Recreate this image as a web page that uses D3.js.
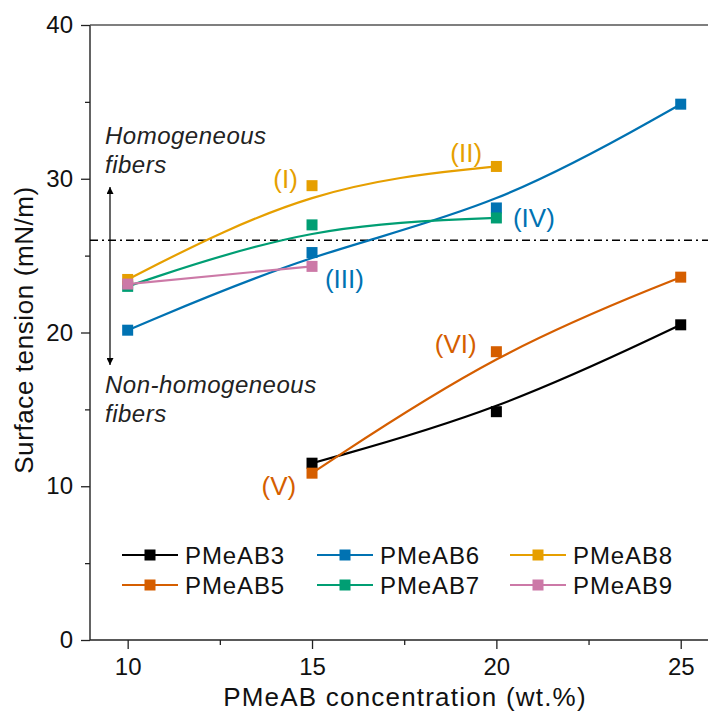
<!DOCTYPE html>
<html>
<head>
<meta charset="utf-8">
<script src="https://cdn.jsdelivr.net/npm/d3@7"></script>
<style>
  html, body { margin: 0; padding: 0; background: #fff; }
  svg { display: block; font-family: "Liberation Sans", Arial, sans-serif; }
</style>
</head>
<body>
<svg id="chart" width="708" height="713"></svg>
<script>
// Surface tension of PMeAB solutions vs. polymer concentration
const seriesNames = ["PMeAB3", "PMeAB5", "PMeAB6", "PMeAB7", "PMeAB8", "PMeAB9"];
const seriesColors = ["#000000", "#D55E00", "#0072B2", "#009E73", "#E69F00", "#CC79A7"];

const concPMeAB3 = [15, 20, 25];
const tensionPMeAB3 = [11.5, 14.85, 20.5];
const concPMeAB5 = [15, 20, 25];
const tensionPMeAB5 = [10.85, 18.75, 23.6];
const concPMeAB6 = [10, 15, 20, 25];
const tensionPMeAB6 = [20.15, 25.2, 28.1, 34.85];
const concPMeAB7 = [10, 15, 20];
const tensionPMeAB7 = [23.0, 27.0, 27.45];
const concPMeAB8 = [10, 15, 20];
const tensionPMeAB8 = [23.45, 29.55, 30.8];
const concPMeAB9 = [10, 15];
const tensionPMeAB9 = [23.15, 24.3];

const xMajorTicks = [10, 15, 20, 25];
const xMinorTicks = [12.5, 17.5, 22.5];
const yMajorTicks = [0, 10, 20, 30, 40];
const yMinorTicks = [5, 15, 25, 35];

const thresholdTension = 26;

// Roman-numeral labels placed beside the curves
const roman = ["(I)", "(II)", "(III)", "(IV)", "(V)", "(VI)"];
const romanSeries = ["PMeAB8", "PMeAB8", "PMeAB6", "PMeAB6", "PMeAB5", "PMeAB5"];
const romanConc = [13.95, 18.75, 15.35, 20.45, 13.63, 18.33];
const romanTension = [29.4, 31.1, 22.9, 26.85, 9.4, 18.65];

const series = [
  { name: "PMeAB3", x: concPMeAB3, y: tensionPMeAB3 },
  { name: "PMeAB5", x: concPMeAB5, y: tensionPMeAB5 },
  { name: "PMeAB6", x: concPMeAB6, y: tensionPMeAB6 },
  { name: "PMeAB7", x: concPMeAB7, y: tensionPMeAB7 },
  { name: "PMeAB8", x: concPMeAB8, y: tensionPMeAB8 },
  { name: "PMeAB9", x: concPMeAB9, y: tensionPMeAB9 }
].map(s => ({ ...s, points: s.x.map((v, i) => [v, s.y[i]]) }));

const color = d3.scaleOrdinal().domain(seriesNames).range(seriesColors);

const svg = d3.select("#chart");
const plotLeft = 90, plotTop = 25, plotBottom = 640, plotRight = 708;
const x = d3.scaleLinear().domain([9, 26]).range([plotLeft + 0.8, plotLeft + 0.8 + 17 * 36.87]);
const y = d3.scaleLinear().domain([0, 40]).range([plotBottom, plotTop]);

const axisColor = "#222";

// frame: left, bottom and top lines
svg.append("line").attr("x1", plotLeft).attr("x2", plotLeft).attr("y1", plotTop).attr("y2", plotBottom)
  .attr("stroke", axisColor).attr("stroke-width", 1.4);
svg.append("line").attr("x1", plotLeft).attr("x2", plotRight).attr("y1", plotBottom).attr("y2", plotBottom)
  .attr("stroke", axisColor).attr("stroke-width", 1.4);
svg.append("line").attr("x1", plotLeft).attr("x2", plotRight).attr("y1", plotTop).attr("y2", plotTop)
  .attr("stroke", "#555").attr("stroke-width", 1.4);

// y axis ticks and labels
const yAxis = d3.axisLeft(y).tickValues(yMajorTicks).tickSize(9).tickPadding(8).tickFormat(d3.format("d"));
const gy = svg.append("g").attr("transform", `translate(${plotLeft},0)`).call(yAxis);
gy.select(".domain").remove();
gy.selectAll(".tick line").attr("stroke", axisColor).attr("stroke-width", 1.3);
gy.selectAll(".tick text").attr("font-size", 24).attr("fill", "#111")
  .attr("font-family", "Liberation Sans, Arial, sans-serif");
const yMinor = d3.axisLeft(y).tickValues(yMinorTicks).tickSize(5).tickFormat("");
const gym = svg.append("g").attr("transform", `translate(${plotLeft},0)`).call(yMinor);
gym.select(".domain").remove();
gym.selectAll(".tick line").attr("stroke", axisColor).attr("stroke-width", 1.3);

// x axis ticks and labels
const xAxis = d3.axisBottom(x).tickValues(xMajorTicks).tickSize(9).tickPadding(9).tickFormat(d3.format("d"));
const gx = svg.append("g").attr("transform", `translate(0,${plotBottom})`).call(xAxis);
gx.select(".domain").remove();
gx.selectAll(".tick line").attr("stroke", axisColor).attr("stroke-width", 1.3);
gx.selectAll(".tick text").attr("font-size", 24).attr("fill", "#111")
  .attr("font-family", "Liberation Sans, Arial, sans-serif");
const xMinor = d3.axisBottom(x).tickValues(xMinorTicks).tickSize(5).tickFormat("");
const gxm = svg.append("g").attr("transform", `translate(0,${plotBottom})`).call(xMinor);
gxm.select(".domain").remove();
gxm.selectAll(".tick line").attr("stroke", axisColor).attr("stroke-width", 1.3);

// axis titles
svg.append("text").attr("x", 405).attr("y", 706).attr("text-anchor", "middle")
  .attr("font-size", 26).attr("letter-spacing", 1.2).attr("fill", "#111")
  .text("PMeAB concentration (wt.%)");
svg.append("text").attr("transform", "translate(33,330) rotate(-90)").attr("text-anchor", "middle")
  .attr("font-size", 26).attr("letter-spacing", 0.6).attr("fill", "#111")
  .text("Surface tension (mN/m)");

// threshold line
svg.append("line").attr("x1", plotLeft).attr("x2", plotRight)
  .attr("y1", y(thresholdTension)).attr("y2", y(thresholdTension))
  .attr("stroke", "#000").attr("stroke-width", 1.3).attr("stroke-dasharray", "8,4,2,4");

// double-headed arrow between the two regimes
const defs = svg.append("defs");
defs.append("marker").attr("id", "arrowHead").attr("viewBox", "0 0 10 10")
  .attr("refX", 10).attr("refY", 5).attr("markerWidth", 12).attr("markerHeight", 7)
  .attr("markerUnits", "userSpaceOnUse").attr("orient", "auto-start-reverse")
  .append("path").attr("d", "M0,0 L10,5 L0,10 Z").attr("fill", "#000");
svg.append("line").attr("x1", 110).attr("x2", 110).attr("y1", 187).attr("y2", 365)
  .attr("stroke", "#000").attr("stroke-width", 1.2)
  .attr("marker-start", "url(#arrowHead)").attr("marker-end", "url(#arrowHead)");

// regime annotations
[["Homogeneous", 144], ["fibers", 173], ["Non-homogeneous", 393], ["fibers", 422]].forEach(([t, yy]) => {
  svg.append("text").attr("x", 105).attr("y", yy).attr("font-size", 24)
    .attr("letter-spacing", 0.5).attr("font-style", "italic").attr("fill", "#222").text(t);
});

// fitted curves and data markers
const line = d3.line().x(d => x(d[0])).y(d => y(d[1])).curve(d3.curveBasis);
const markerSize = 11;
series.forEach(s => {
  const g = svg.append("g");
  g.append("path").attr("d", line(s.points)).attr("fill", "none")
    .attr("stroke", color(s.name)).attr("stroke-width", 2.2);
  g.selectAll("rect").data(s.points).join("rect")
    .attr("x", d => x(d[0]) - markerSize / 2).attr("y", d => y(d[1]) - markerSize / 2)
    .attr("width", markerSize).attr("height", markerSize).attr("fill", color(s.name));
});

// roman numeral labels
roman.forEach((r, i) => {
  svg.append("text").attr("x", x(romanConc[i])).attr("y", y(romanTension[i]))
    .attr("font-size", 26).attr("fill", color(romanSeries[i])).text(r);
});

// legend: two rows, three columns
const legendCols = [122, 317, 510];
const legendRows = [555, 585];
seriesNames.forEach((name, i) => {
  const col = Math.floor(i / 2), row = i % 2;
  const lx = legendCols[col], ly = legendRows[row];
  const g = svg.append("g");
  g.append("line").attr("x1", lx).attr("x2", lx + 56).attr("y1", ly).attr("y2", ly)
    .attr("stroke", color(name)).attr("stroke-width", 2.2);
  g.append("rect").attr("x", lx + 28 - 5.5).attr("y", ly - 5.5).attr("width", 11).attr("height", 11)
    .attr("fill", color(name));
  g.append("text").attr("x", lx + 63).attr("y", ly + 8.5).attr("font-size", 24)
    .attr("letter-spacing", 0.9).attr("fill", "#111").text(name);
});
</script>
</body>
</html>
